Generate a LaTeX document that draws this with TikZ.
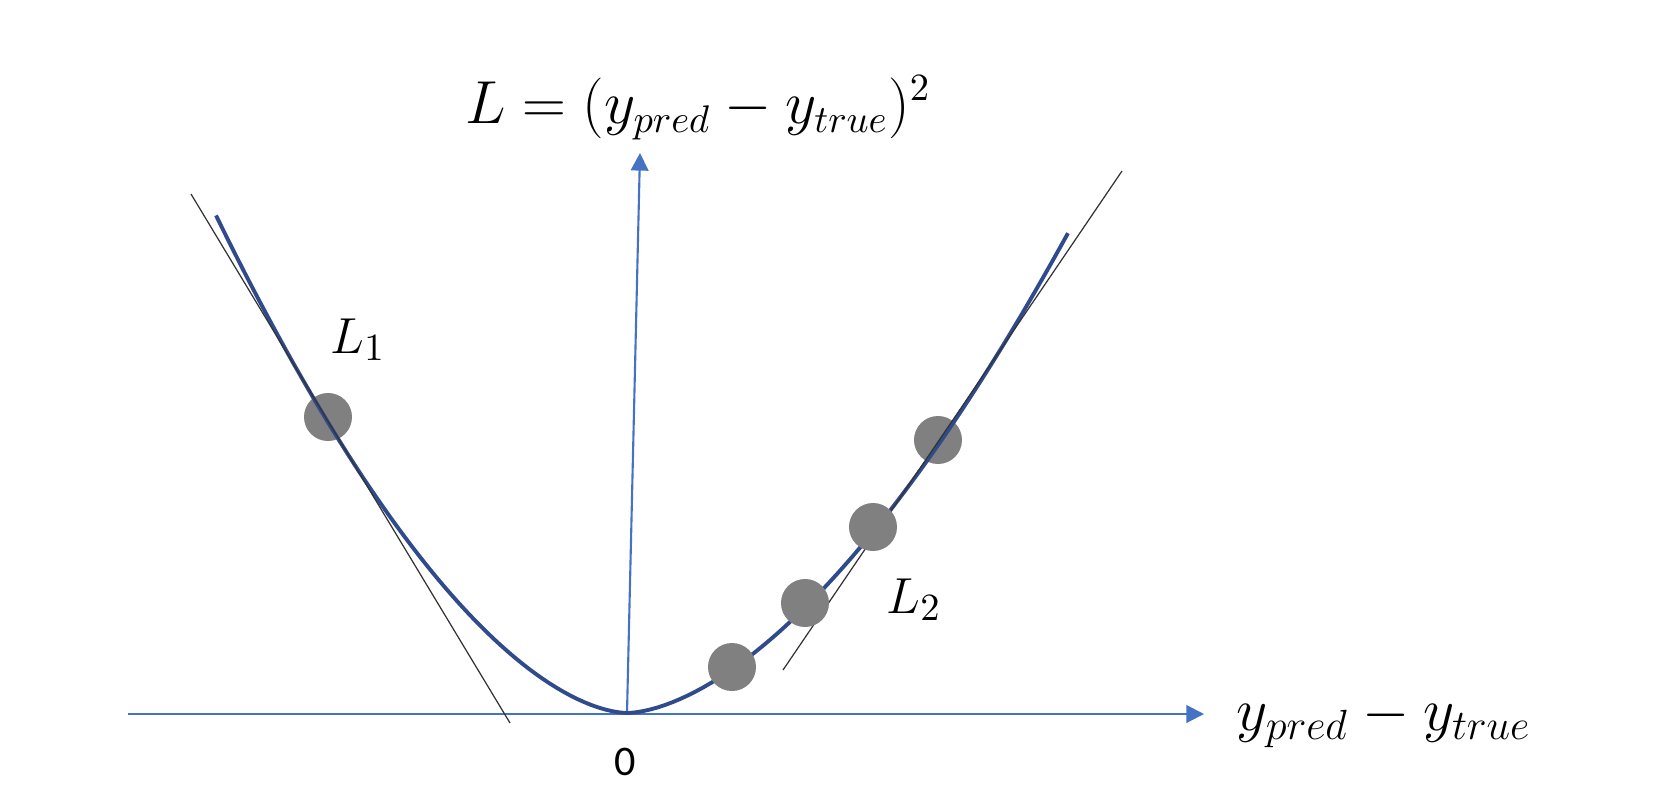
\documentclass[tikz,border=0pt]{standalone}
\usepackage{amsmath}
\usepackage{fontspec}
\newfontfamily\carlito{Carlito}
\usepackage{tikz}
\usepackage{xcolor}
\usetikzlibrary{arrows.meta}
\definecolor{axisblue}{HTML}{4472C4}
\definecolor{curveblue}{HTML}{2F4B8C}
\definecolor{dotgray}{HTML}{808080}
\tikzset{
  axis/.style={draw=axisblue,line width=0.6pt,-{Triangle[width=5pt,length=5pt]}},
  lossdot/.style={circle,fill=dotgray,minimum size=0.48cm,inner sep=0pt},
  tangent/.style={draw=black!80,line width=0.35pt},
  lbl/.style={font=\fontsize{15.5}{18}\selectfont,inner sep=0pt}
}

\begin{document}
\begin{tikzpicture}[x=0.01cm,y=-0.01cm]
\useasboundingbox (0,0) rectangle (1672,784);

\coordinate (o) at (627,713);
\coordinate (xs) at (128,714);
\coordinate (xe) at (1204,714);
\coordinate (ye) at (640,153);
\coordinate (t1a) at (191,194);
\coordinate (t1b) at (510,723);
\coordinate (t2a) at (1122,171);
\coordinate (t2b) at (783,670);

\node[lossdot] (d1) at (328,417) {};
\node[lossdot] (d2) at (938,440) {};

\draw[axis] (xs) -- (xe);
\draw[axis] (o) -- (ye);

\draw[curveblue,line width=1.1pt]
  plot[domain=4.11:0.01,samples=60] ({627-100*\x},{713-45.66*\x^1.69})
  -- plot[domain=0.01:4.41,samples=60] ({627+100*\x},{713-40.27*\x^1.67});

\draw[tangent] (t1a) -- (t1b);
\draw[tangent] (t2a) -- (t2b);

\node[lossdot] (d3) at (873,527) {};
\node[lossdot] (d4) at (805,603) {};
\node[lossdot] (d5) at (732,667) {};

\node[lbl,font=\fontsize{16.3}{19}\selectfont,anchor=base] (loss) at (698,123) {$L=(y_{pred}-y_{true})^2$};
\node[lbl,font=\fontsize{17.2}{20}\selectfont,anchor=base] (diff) at (1384,730) {$y_{pred}-y_{true}$};
\node[lbl,anchor=base] (l1) at (358,353) {$L_1$};
\node[lbl,anchor=base] (l2) at (914,613) {$L_2$};
\node[font=\carlito\fontsize{12}{14}\selectfont,anchor=base,inner sep=0pt] (zero) at (625,775) {0};
\end{tikzpicture}
\end{document}
